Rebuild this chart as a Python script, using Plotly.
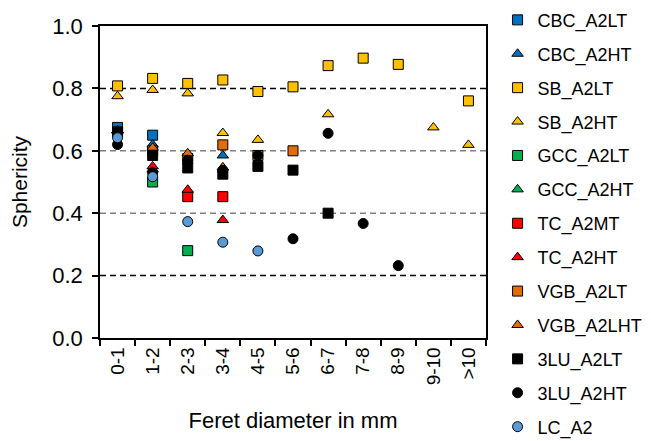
import plotly.graph_objects as go

categories = ["0-1", "1-2", "2-3", "3-4", "4-5", "5-6", "6-7", "7-8", "8-9", "9-10", ">10"]

N = None
CBC_A2LT = [0.675, 0.65, N, N, N, N, N, N, N, N, N]
CBC_A2HT = [0.665, 0.62, N, 0.585, N, N, N, N, N, N, N]
SB_A2LT = [0.808, 0.832, 0.816, 0.827, 0.79, 0.805, 0.873, 0.897, 0.877, N, 0.76]
SB_A2HT = [0.775, 0.795, 0.784, 0.657, 0.635, N, 0.717, N, N, 0.675, 0.619]
GCC_A2LT = [0.66, 0.50, 0.28, N, N, N, N, N, N, N, N]
GCC_A2HT = [0.665, 0.54, N, N, N, N, N, N, N, N, N]
TC_A2MT = [N, N, 0.453, 0.453, N, N, N, N, N, N, N]
TC_A2HT = [0.665, 0.55, 0.475, 0.378, N, N, N, N, N, N, N]
VGB_A2LT = [N, 0.60, 0.575, 0.619, 0.585, 0.60, N, N, N, N, N]
VGB_A2LHT = [N, 0.61, 0.592, 0.547, N, N, N, N, N, N, N]
LU3_A2LT = [0.66, 0.585, 0.545, 0.525, 0.55, 0.538, 0.40, N, N, N, N]
LU3_A2HT = [0.62, 0.53, 0.57, 0.537, 0.585, 0.318, 0.656, 0.367, 0.232, N, N]
LC_A2 = [0.642, 0.517, 0.373, 0.307, 0.279, N, N, N, N, N, N]

series = [
    ("CBC_A2LT", CBC_A2LT, "square", "#0070C0"),
    ("CBC_A2HT", CBC_A2HT, "triangle-up", "#0070C0"),
    ("SB_A2LT", SB_A2LT, "square", "#FFC000"),
    ("SB_A2HT", SB_A2HT, "triangle-up", "#FFC000"),
    ("GCC_A2LT", GCC_A2LT, "square", "#00B050"),
    ("GCC_A2HT", GCC_A2HT, "triangle-up", "#00B050"),
    ("TC_A2MT", TC_A2MT, "square", "#FF0000"),
    ("TC_A2HT", TC_A2HT, "triangle-up", "#FF0000"),
    ("VGB_A2LT", VGB_A2LT, "square", "#E36C09"),
    ("VGB_A2LHT", VGB_A2LHT, "triangle-up", "#E36C09"),
    ("3LU_A2LT", LU3_A2LT, "square", "#000000"),
    ("3LU_A2HT", LU3_A2HT, "circle", "#000000"),
    ("LC_A2", LC_A2, "circle", "#5B9BD5"),
]

FONT = "Liberation Sans, Arial, sans-serif"

fig = go.Figure()
for i, (name, vals, sym, col) in enumerate(series):
    fig.add_trace(go.Scatter(
        x=categories, y=vals, mode="markers", name=name,
        legendgroup=f"g{i}",
        marker=dict(symbol=sym, size=10, color=col,
                    line=dict(color="black", width=1)),
    ))

shapes = []
for yv, c in [(0.2, "black"), (0.4, "#808080"), (0.6, "#808080"), (0.8, "black")]:
    shapes.append(dict(type="line", xref="paper", yref="y", x0=0, x1=1, y0=yv, y1=yv,
                       line=dict(color=c, width=1.5, dash="6px,4px"), layer="below"))

# page body adds an 8px offset; figure sized so it fits the 651x441 window
fig.update_layout(
    width=643, height=433,
    margin=dict(l=92, r=165, t=18, b=103, autoexpand=False),
    paper_bgcolor="white", plot_bgcolor="white",
    font=dict(family=FONT, size=18, color="black"),
    shapes=shapes,
    showlegend=True,
    legend=dict(x=1.03, y=1.078, xanchor="left", yanchor="top",
                font=dict(family=FONT, size=18, color="black"),
                tracegroupgap=7.5, itemwidth=30, bgcolor="rgba(0,0,0,0)",
                maxheight=1000),
    xaxis=dict(
        type="category", categoryorder="array", categoryarray=categories,
        range=[-0.5, len(categories) - 0.5],
        showline=True, linecolor="black", linewidth=1.5, mirror=True,
        ticks="outside", ticklen=6, tickcolor="black", tickwidth=1.5,
        tickson="boundaries", tickangle=-90, automargin=False,
        tickfont=dict(family=FONT, size=19),
        showgrid=False,
        title=dict(text="Feret diameter in mm", font=dict(family=FONT, size=22), standoff=28),
    ),
    yaxis=dict(
        range=[0, 1.0], dtick=0.2, tickformat=".1f",
        showline=True, linecolor="black", linewidth=1.5, mirror=True,
        ticks="outside", ticklen=6, tickcolor="black", tickwidth=1.5,
        tickfont=dict(family=FONT, size=22), automargin=False,
        ticklabelstandoff=5,
        showgrid=False, zeroline=False,
        title=dict(text="Sphericity", font=dict(family=FONT, size=21), standoff=19),
    ),
)

fig.write_html("out.html")
